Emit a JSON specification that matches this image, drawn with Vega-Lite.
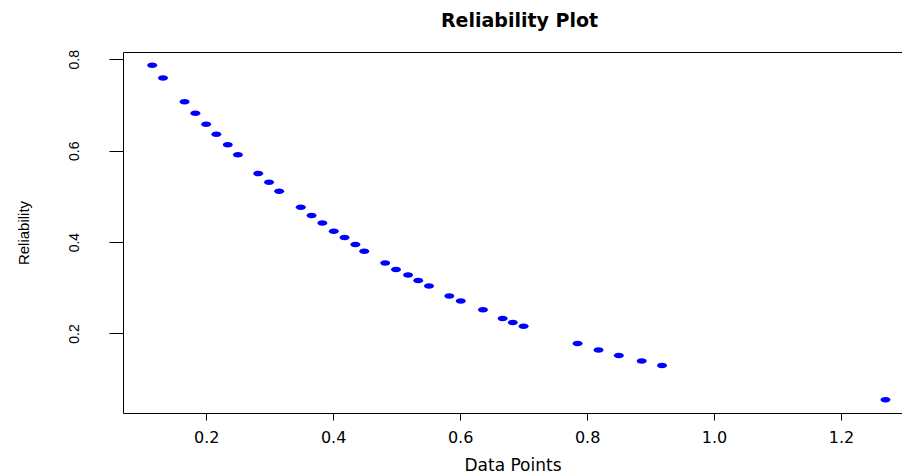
{
  "$schema": "https://vega.github.io/schema/vega-lite/v6.json",
  "autosize": "none",
  "width": 779,
  "height": 361,
  "padding": {"left": 123, "top": 52, "right": 0, "bottom": 60},
  "background": "white",
  "title": {
    "text": "Reliability Plot",
    "font": "DejaVu Sans",
    "fontSize": 19,
    "fontWeight": "bold",
    "color": "black",
    "anchor": "middle",
    "dx": 7,
    "baseline": "alphabetic",
    "offset": 4
  },
  "config": {
    "view": {"stroke": null},
    "axis": {"grid": false, "domain": true, "domainColor": "black", "domainWidth": 1, "tickColor": "black", "labelColor": "black", "titleColor": "black", "titleFontWeight": "normal"}
  },
  "data": {
    "values": [
      {"x": 0.115, "r": 0.787},
      {"x": 0.132, "r": 0.759},
      {"x": 0.166, "r": 0.707},
      {"x": 0.183, "r": 0.682},
      {"x": 0.200, "r": 0.658},
      {"x": 0.216, "r": 0.636},
      {"x": 0.234, "r": 0.613},
      {"x": 0.250, "r": 0.591},
      {"x": 0.282, "r": 0.550},
      {"x": 0.299, "r": 0.531},
      {"x": 0.315, "r": 0.511},
      {"x": 0.349, "r": 0.476},
      {"x": 0.366, "r": 0.458},
      {"x": 0.383, "r": 0.442},
      {"x": 0.401, "r": 0.424},
      {"x": 0.418, "r": 0.410},
      {"x": 0.435, "r": 0.395},
      {"x": 0.449, "r": 0.380},
      {"x": 0.482, "r": 0.354},
      {"x": 0.499, "r": 0.340},
      {"x": 0.518, "r": 0.328},
      {"x": 0.534, "r": 0.316},
      {"x": 0.551, "r": 0.304},
      {"x": 0.583, "r": 0.282},
      {"x": 0.601, "r": 0.271},
      {"x": 0.636, "r": 0.252},
      {"x": 0.667, "r": 0.233},
      {"x": 0.683, "r": 0.224},
      {"x": 0.700, "r": 0.216},
      {"x": 0.785, "r": 0.178},
      {"x": 0.818, "r": 0.164},
      {"x": 0.850, "r": 0.152},
      {"x": 0.886, "r": 0.140},
      {"x": 0.918, "r": 0.130},
      {"x": 1.270, "r": 0.055}
    ]
  },
  "resolve": {"axis": {"x": "independent"}},
  "layer": [
    {
      "mark": {
        "type": "point",
        "filled": true,
        "color": "#0000FF",
        "opacity": 1,
        "shape": "M-1,0A1,0.55,0,1,1,1,0A1,0.55,0,1,1,-1,0Z",
        "size": 100
      },
      "encoding": {
        "x": {
          "field": "x",
          "type": "quantitative",
          "scale": {"domain": [0.069, 1.296], "nice": false, "zero": false},
          "axis": {
            "values": [0.2, 0.4, 0.6, 0.8, 1.0, 1.2],
            "format": ".1f",
            "tickSize": 7,
            "labelFont": "DejaVu Sans",
            "labelFontSize": 16,
            "labelPadding": 9,
            "title": "Data Points",
            "titleFont": "DejaVu Sans",
            "titleFontSize": 17,
            "titlePadding": 12
          }
        },
        "y": {
          "field": "r",
          "type": "quantitative",
          "scale": {"domain": [0.026, 0.816], "nice": false, "zero": false},
          "axis": {
            "values": [0.2, 0.4, 0.6, 0.8],
            "format": ".1f",
            "tickSize": 14,
            "labelAngle": -90,
            "labelAlign": "center",
            "labelBaseline": "bottom",
            "labelFont": "Liberation Sans",
            "labelFontSize": 14,
            "labelPadding": 28,
            "title": "Reliability",
            "titleFont": "Liberation Sans",
            "titleFontSize": 15,
            "titlePadding": 36
          }
        }
      }
    },
    {
      "mark": {"type": "point", "opacity": 0},
      "encoding": {
        "x": {
          "field": "x",
          "type": "quantitative",
          "scale": {"domain": [0.069, 1.296], "nice": false, "zero": false},
          "axis": {"orient": "top", "labels": false, "ticks": false, "title": null}
        },
        "y": {"field": "r", "type": "quantitative"}
      }
    }
  ]
}
